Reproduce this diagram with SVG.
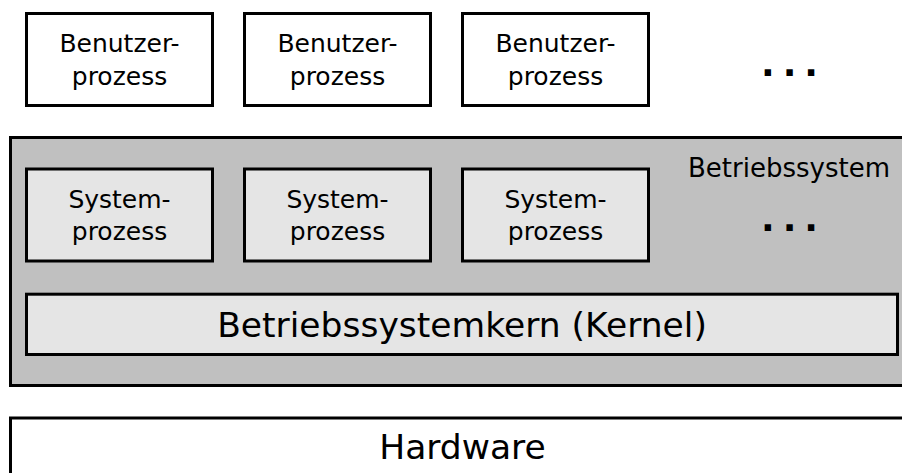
<svg xmlns="http://www.w3.org/2000/svg" width="902" height="473" viewBox="0 0 902 473">
  <style>
    .box { stroke: #000; stroke-width: 3; }
    .user { fill: #ffffff; }
    .sys { fill: #e5e5e5; }
    .os { fill: #c0c0c0; }
    .lbl { font-family: "DejaVu Sans", "Liberation Sans", sans-serif; font-size: 25px; fill: #000; text-anchor: middle; }
    .big { font-family: "DejaVu Sans", "Liberation Sans", sans-serif; font-size: 34.5px; fill: #000; text-anchor: middle; }
    .dots { font-family: "DejaVu Sans", sans-serif; font-weight: bold; font-size: 36px; fill: #000; letter-spacing: 8px; }
  </style>
  <rect width="902" height="473" fill="#ffffff"/>

  <g id="betriebssystem">
    <rect class="box os" x="10.5" y="137.5" width="900" height="248"/>
    <text class="lbl" x="789" y="177" style="font-size:26px">Betriebssystem</text>
  </g>

  <g id="benutzerprozess1">
    <rect class="box user" x="26.5" y="13.5" width="186" height="92"/>
    <text class="lbl" x="119.5" y="52">Benutzer-</text>
    <text class="lbl" x="119.5" y="84.5">prozess</text>
  </g>
  <g id="benutzerprozess2">
    <rect class="box user" x="244.5" y="13.5" width="186" height="92"/>
    <text class="lbl" x="337.5" y="52">Benutzer-</text>
    <text class="lbl" x="337.5" y="84.5">prozess</text>
  </g>
  <g id="benutzerprozess3">
    <rect class="box user" x="462.5" y="13.5" width="186" height="92"/>
    <text class="lbl" x="555.5" y="52">Benutzer-</text>
    <text class="lbl" x="555.5" y="84.5">prozess</text>
  </g>
  <g id="dots-user">
    <text class="dots" x="761" y="75.5">...</text>
  </g>

  <g id="systemprozess1">
    <rect class="box sys" x="26.5" y="169" width="186" height="92"/>
    <text class="lbl" x="119.5" y="207.5">System-</text>
    <text class="lbl" x="119.5" y="240">prozess</text>
  </g>
  <g id="systemprozess2">
    <rect class="box sys" x="244.5" y="169" width="186" height="92"/>
    <text class="lbl" x="337.5" y="207.5">System-</text>
    <text class="lbl" x="337.5" y="240">prozess</text>
  </g>
  <g id="systemprozess3">
    <rect class="box sys" x="462.5" y="169" width="186" height="92"/>
    <text class="lbl" x="555.5" y="207.5">System-</text>
    <text class="lbl" x="555.5" y="240">prozess</text>
  </g>
  <g id="dots-system">
    <text class="dots" x="761" y="230.5">...</text>
  </g>

  <g id="kernel">
    <rect class="box sys" x="26.5" y="294.2" width="871" height="60.3"/>
    <text class="big" x="462" y="336.5">Betriebssystemkern (Kernel)</text>
  </g>

  <g id="hardware">
    <rect class="box user" x="10.5" y="418" width="900" height="100"/>
    <text class="big" x="462.5" y="458.5">Hardware</text>
  </g>

  <g id="connectors"></g>
</svg>
